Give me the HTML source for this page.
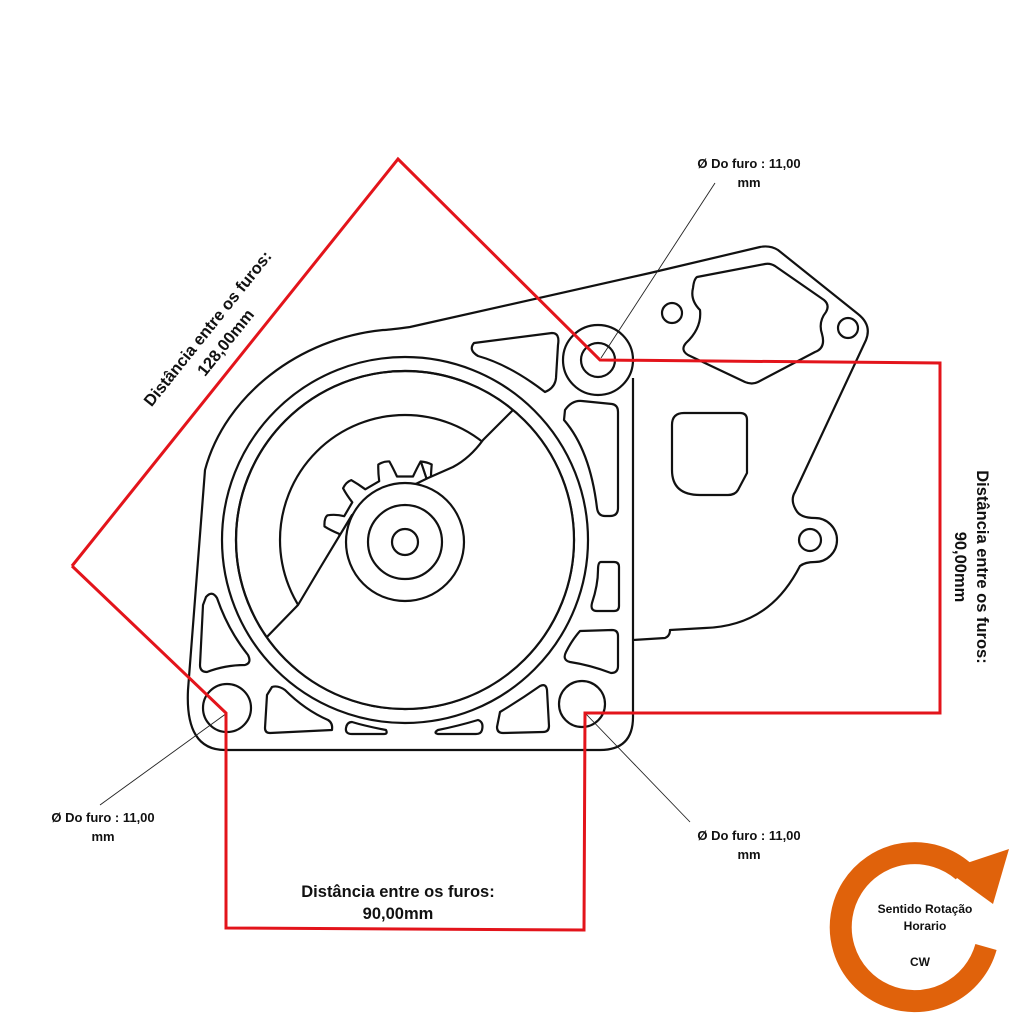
<!DOCTYPE html>
<html><head><meta charset="utf-8"><style>
html,body{margin:0;padding:0;background:#fff;}
svg{display:block;}
text{font-family:"Liberation Sans",sans-serif;font-weight:bold;fill:#111;}
</style></head><body>
<svg width="1027" height="1025" viewBox="0 0 1027 1025" xmlns="http://www.w3.org/2000/svg">
<defs>
<clipPath id="ring"><circle cx="405" cy="540" r="169"/></clipPath>
</defs>
<g fill="none" stroke="#111" stroke-width="2.2" stroke-linejoin="round">
<path d="M410,327 C395,329 388,330 383,330 C300,338 225,395 205,470 L188,690 Q185,750 225,750 L600,750 Q633,750 633,717 L633,640 L665,638 Q670,636 670,630 L705,628 C760,626 785,595 800,566 Q805,562 815,562 A22,22 0 0 0 815,518 Q800,518 796,510 Q790,500 795,492 L866,340 Q872,325 858,314 L778,250 Q770,245 760,247 L650,273 L410,327 Z" fill="#fff"/>
<line x1="633" y1="378" x2="633" y2="640"/>
<circle cx="598" cy="360" r="35" fill="#fff"/>
<circle cx="598" cy="360" r="17"/>
<circle cx="227" cy="708" r="24"/>
<circle cx="582" cy="704" r="23"/>
<path d="M697,277 L765,264 Q770,263 775,266 L824,300 Q830,305 826,312 Q818,322 822,334 Q826,348 815,352 L758,382 Q752,385 745,382 L688,355 Q680,350 686,343 Q702,328 700,310 Q690,300 693,288 Q694,279 697,277 Z"/>
<circle cx="672" cy="313" r="10"/>
<circle cx="848" cy="328" r="10"/>
<circle cx="810" cy="540" r="11"/>
<path d="M684,413 L740,413 Q747,413 747,420 L747,473 L738,490 Q735,495 728,495 L700,495 Q672,495 672,470 L672,425 Q672,413 684,413 Z"/>
<path d="M474,343 L552,333 Q560,333 558,345 L556,378 Q555,388 545,392 Q510,365 478,356 Q468,350 474,343Z"/>
<path d="M565,410 Q572,400 582,401 L612,404 Q618,405 618,412 L618,508 Q618,516 610,516 L605,516 Q598,516 597,508 Q590,450 564,420 Z"/>
<path d="M601,562 L614,562 Q619,562 619,567 L619,606 Q619,611 614,611 L597,611 Q590,611 592,603 Q598,585 598,570 Q598,562 601,562Z"/>
<path d="M580,631 L612,630 Q618,630 618,636 L618,666 Q618,673 611,673 Q590,665 570,662 Q562,660 566,652 Q572,640 580,631Z"/>
<path d="M206,597 Q212,590 217,598 Q228,630 248,655 Q252,663 245,665 Q225,665 207,672 Q200,672 200,665 L203,605 Z"/>
<path d="M272,687 Q278,685 285,690 Q305,710 328,720 Q333,723 332,730 L270,733 Q265,733 265,728 L267,695 Z"/>
<path d="M352,722 Q365,726 386,730 Q388,734 384,734 L352,734 Q345,734 346,728 Q347,722 352,722 Z"/>
<path d="M478,720 Q484,722 482,730 Q481,734 476,734 L438,734 Q433,733 438,730 Q458,726 478,720Z"/>
<path d="M500,712 Q520,700 540,686 Q546,683 547,690 L549,726 Q549,732 543,732 L503,733 Q497,733 497,727 Z"/>
<circle cx="405" cy="540" r="183"/>
<circle cx="405" cy="540" r="169" fill="#fff"/>
<circle cx="405" cy="540" r="125"/>
<path d="M339,542 L339.5,534 Q330,530 324.5,526.4 Q324,518 327.5,515.3 Q336,514 344.2,516.2 L352.3,502.3 Q346,494 343.1,488.2 Q346,482 351.2,480.1 Q358,484 365.3,489.3 L379.2,481.2 Q378,472 378.3,464.5 Q384,461 389.4,461.5 Q393,468 397,476.5 L413,476.5 Q417,468 420.6,461.5 Q427,462 431.7,464.5 Q431,472 430.8,481.2 L438,484.8 L470,470"/>
<line x1="421" y1="462" x2="427" y2="480"/>
<g clip-path="url(#ring)">
<path d="M262,642 L298,605 L320,568 L352,515 L428,478 L453,467 Q470,458 483,440 L517,406 L720,406 L720,780 L200,780 Z" fill="#fff"/>
</g>
<circle cx="405" cy="540" r="169"/>
<circle cx="405" cy="542" r="59" fill="#fff"/>
<circle cx="405" cy="542" r="37"/>
<circle cx="405" cy="542" r="13"/>
</g>
<g stroke="#222" stroke-width="0.9">
<line x1="601" y1="358" x2="715" y2="183"/>
<line x1="227" y1="713" x2="100" y2="805"/>
<line x1="585" y1="713" x2="690" y2="822"/>
</g>
<polyline points="72,566 398,159 600,360 940,363 940,713 585,713 584,930 226,928 226,713 72,566" fill="none" stroke="#e3141b" stroke-width="3"/>
<g font-size="13" text-anchor="middle">
<text x="749" y="168">Ø Do furo : 11,00</text>
<text x="749" y="187">mm</text>
<text x="103" y="822">Ø Do furo : 11,00</text>
<text x="103" y="841">mm</text>
<text x="749" y="840">Ø Do furo : 11,00</text>
<text x="749" y="859">mm</text>
</g>
<g font-size="16.5" text-anchor="middle">
<text x="398" y="897">Distância entre os furos:</text>
<text x="398" y="919">90,00mm</text>
<text transform="translate(212,332) rotate(-51.3)" x="0" y="0">Distância entre os furos:</text>
<text transform="translate(230,346) rotate(-51.3)" x="0" y="0">128,00mm</text>
<text transform="translate(977,567) rotate(90)" x="0" y="0">Distância entre os furos:</text>
<text transform="translate(955,567) rotate(90)" x="0" y="0">90,00mm</text>
</g>
<path d="M986,947 A74,74 0 1 1 963,871" fill="none" stroke="#e0620b" stroke-width="22"/>
<polygon points="946,870 1009,849 993,904" fill="#e0620b"/>
<g font-size="12" text-anchor="middle">
<text x="925" y="913">Sentido Rotação</text>
<text x="925" y="930">Horario</text>
<text x="920" y="966">CW</text>
</g>
</svg>
</body></html>
